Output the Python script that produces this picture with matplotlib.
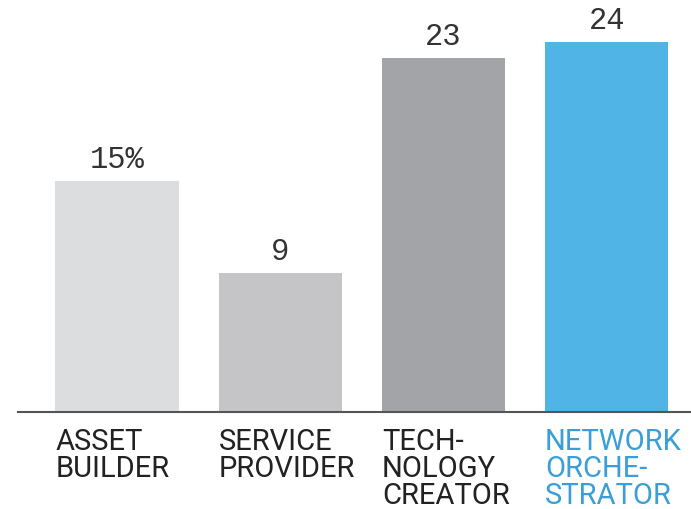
import numpy as np
import matplotlib
matplotlib.use("Agg")
from matplotlib import pyplot as plt

categories = ["ASSET\nBUILDER", "SERVICE\nPROVIDER", "TECH-\nNOLOGY\nCREATOR",
              "NETWORK\nORCHE-\nSTRATOR"]
values = [15, 9, 23, 24]
value_labels = ["15%", "9", "23", "24"]

bar_colors = ["#dcdddf", "#c5c5c8", "#a2a4a7", "#50b4e6"]
label_colors = ["#222222", "#222222", "#222222", "#3a9fd8"]

fig = plt.figure(figsize=(6.91, 5.10), dpi=100)
ax = fig.add_axes([18 / 691, 97 / 510, 1 - 18 / 691, 413 / 510])

x = np.arange(len(values))
width = 0.755
bars = ax.bar(x, values, width=width, color=bar_colors)

ax.set_xlim(-0.607, 3.517)
ax.set_ylim(0, 26.8)

for s in ["top", "right", "left"]:
    ax.spines[s].set_visible(False)
ax.spines["bottom"].set_color("#555555")
ax.spines["bottom"].set_linewidth(1.5)
ax.set_xticks([])
ax.set_yticks([])

for xi, v, lab in zip(x, values, value_labels):
    ax.annotate(lab, (xi, v), xytext=(0, 5), textcoords="offset points",
                ha="center", va="bottom", fontsize=22,
                family="Liberation Mono", color="#333333")

for xi, cat, c in zip(x, categories, label_colors):
    ax.annotate(cat, (xi - width / 2, 0), xytext=(0, -11), textcoords="offset points",
                ha="left", va="top", fontsize=21, family="Roboto",
                color=c, linespacing=0.95, annotation_clip=False)

fig.savefig("out.png", dpi=100)
